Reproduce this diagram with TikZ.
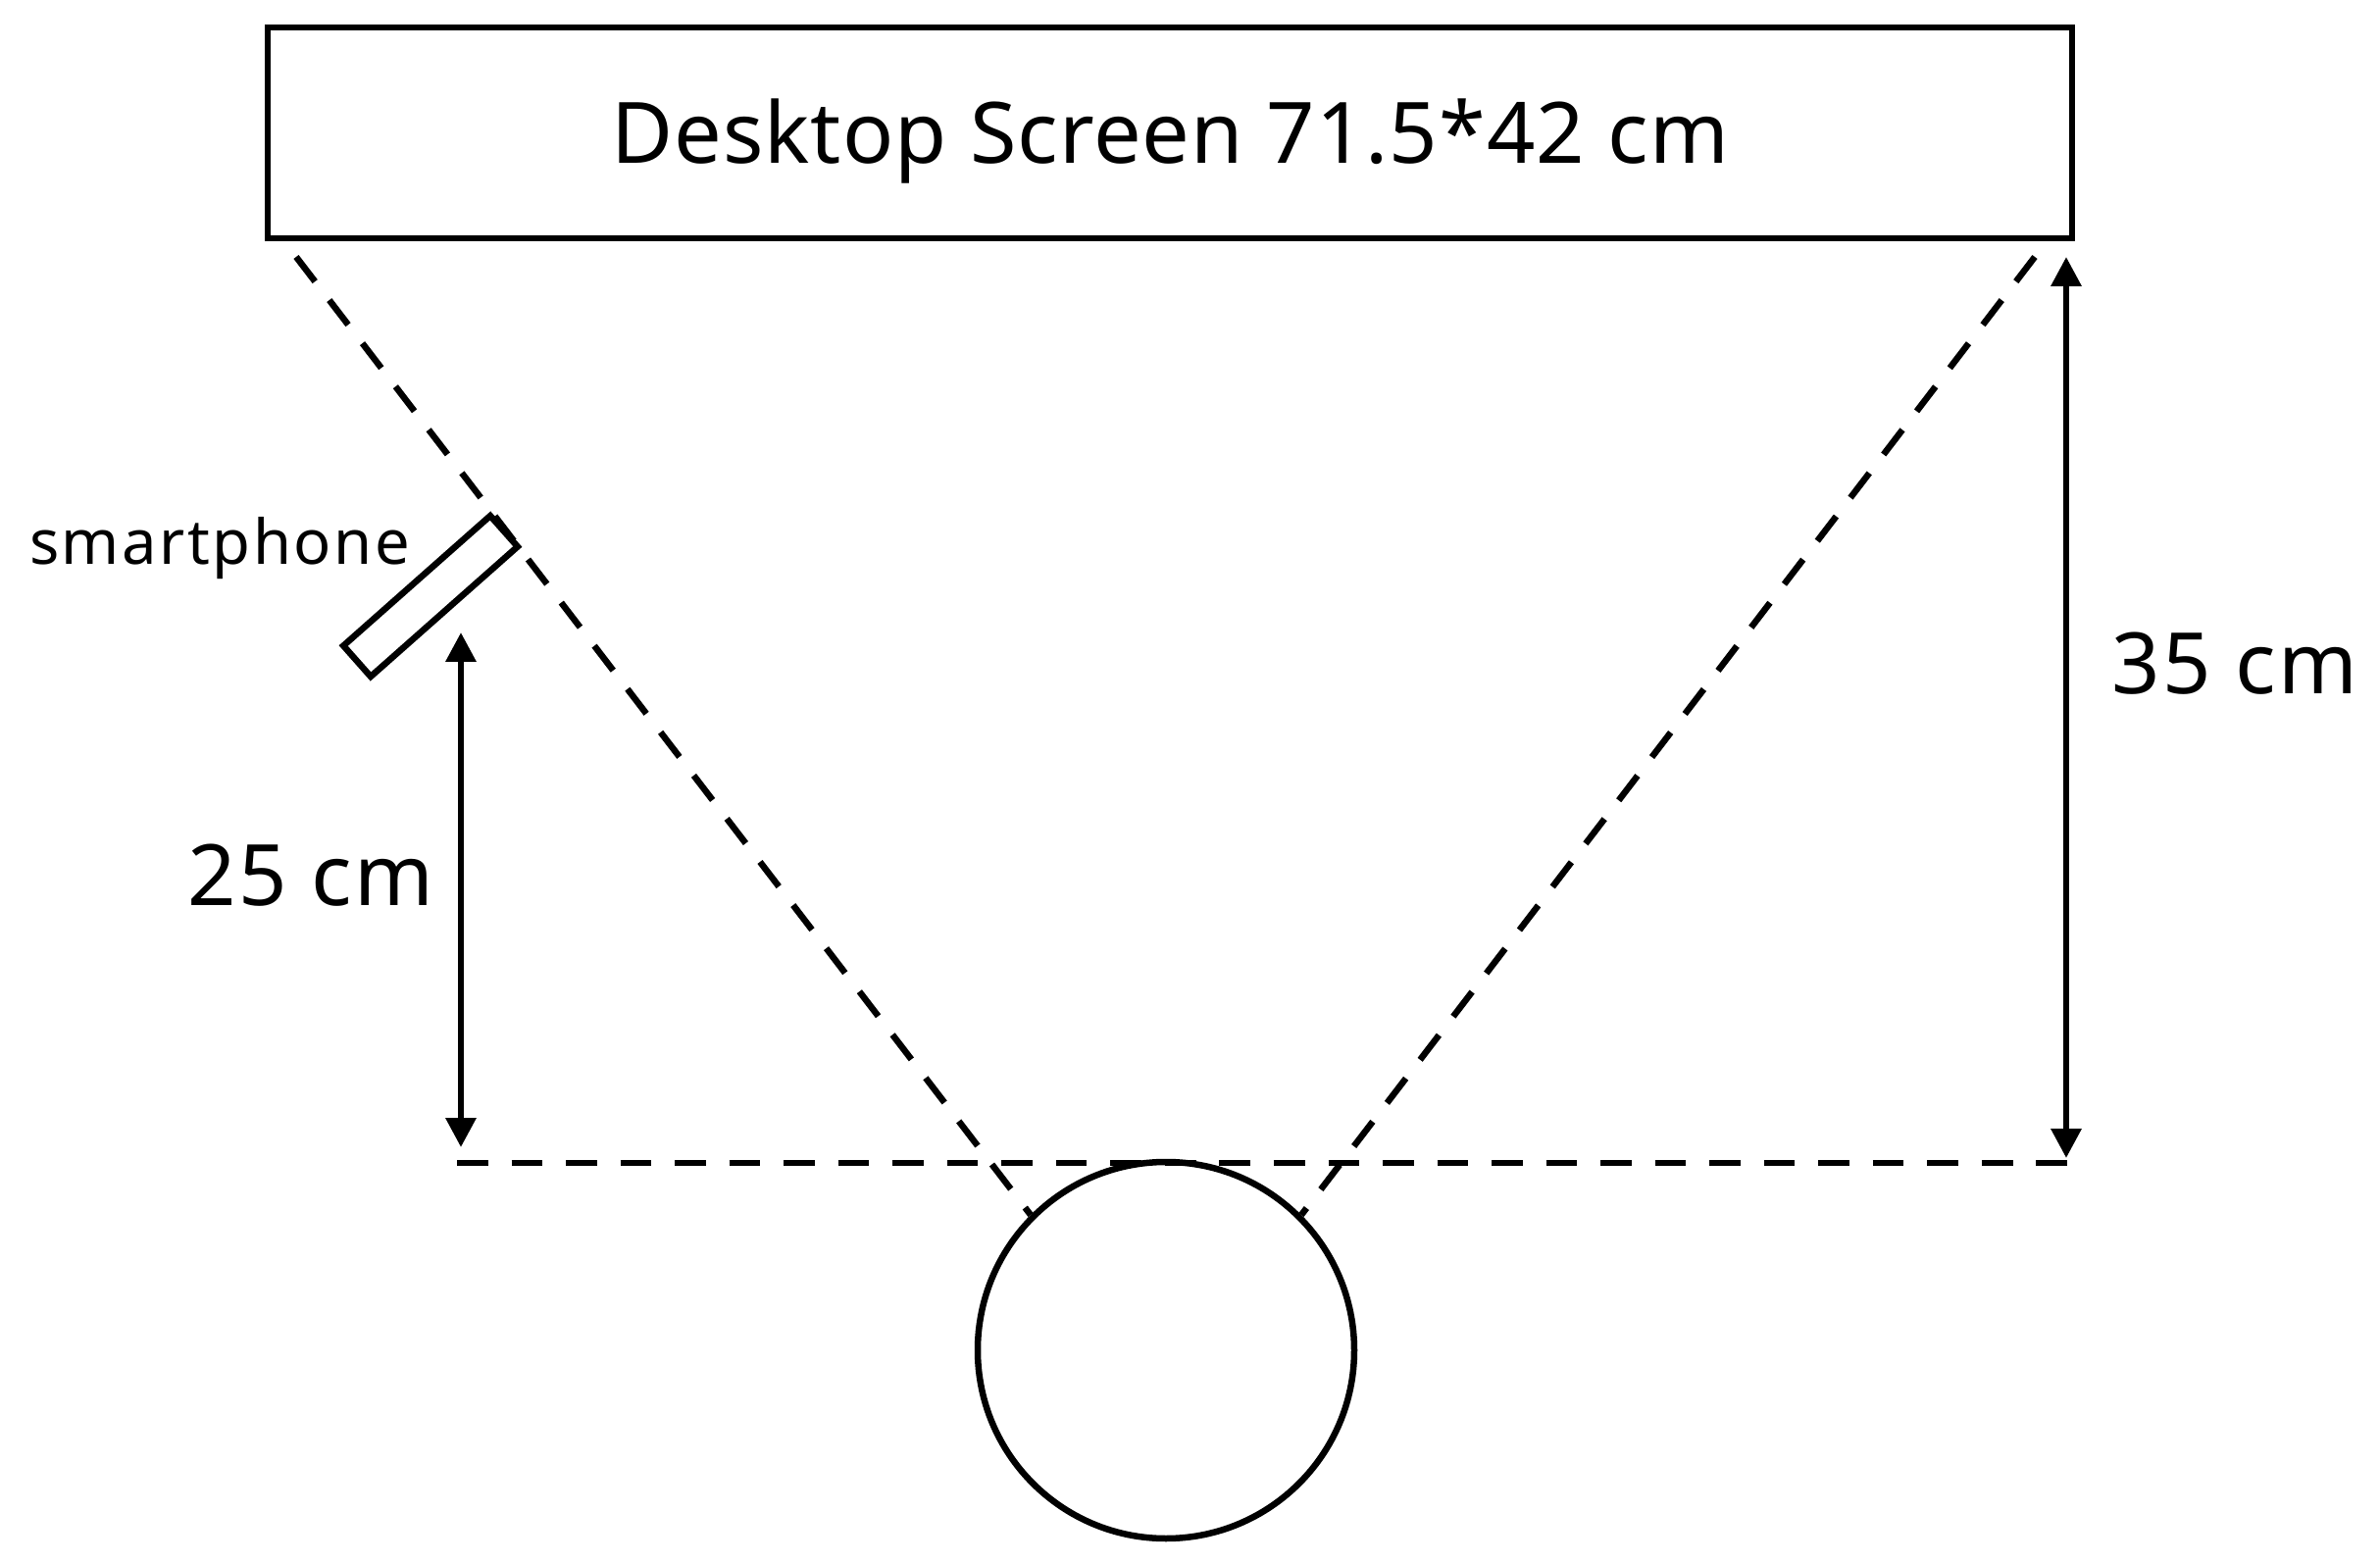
\documentclass[tikz,border=0pt]{standalone}
\usepackage{fontspec}
\setmainfont{Noto Sans}
\newfontfamily\titlefont[LetterSpace=1.2]{Noto Sans}
\newfontfamily\dimfont[LetterSpace=3]{Noto Sans}
\newfontfamily\phonefont[LetterSpace=4]{Noto Sans}
\usetikzlibrary{arrows.meta}
\begin{document}
\begin{tikzpicture}[
  line width=1.85pt,
  dashline/.style={line width=1.85pt, dash pattern=on 9pt off 6.8pt},
  dimarrow/.style={line width=1.85pt, {Triangle[width=0.3cm,length=0.3cm]}-{Triangle[width=0.3cm,length=0.3cm]}},
  lbl/.style={inner sep=0pt, anchor=base},
]
\useasboundingbox (0,0) rectangle (24.27,-15.94);
% screen
\node[draw, line width=1.85pt, minimum width=18.4cm, minimum height=2.15cm, inner sep=0pt] (screen) at (11.93,-1.355) {};
\node[lbl, font=\titlefont\fontsize{24.6pt}{28pt}\selectfont] (title) at (11.93,-1.67) {Desktop Screen 71.5*42 cm};
% head
\node[draw, circle, line width=1.85pt, minimum size=3.84cm, inner sep=0pt] (head) at (11.89,-13.77) {};
% phone
\node[draw, line width=1.85pt, rotate=41.5, minimum width=2.0cm, minimum height=0.42cm, inner sep=0pt] (phone) at (4.39,-6.08) {};
% sight lines
\coordinate (sl) at (3.02,-2.62);
\coordinate (sr) at (20.75,-2.62);
\draw[dashline] (sl) -- (head.135);
\draw[dashline] (sr) -- (head.45);
% eye level line
\coordinate (hl) at (4.66,-11.86);
\coordinate (hr) at (21.08,-11.86);
\draw[dashline] (hl) -- (hr);
% dimensions
\coordinate (a25b) at (4.70,-11.70);
\coordinate (a25t) at (4.70,-6.45);
\draw[dimarrow] (a25b) -- (a25t);
\coordinate (a35t) at (21.07,-2.62);
\coordinate (a35b) at (21.07,-11.81);
\draw[dimarrow] (a35t) -- (a35b);
% labels
\node[lbl, font=\dimfont\fontsize{24.6pt}{28pt}\selectfont] (l35) at (22.79,-7.07) {35 cm};
\node[lbl, font=\dimfont\fontsize{24.6pt}{28pt}\selectfont] (l25) at (3.17,-9.23) {25 cm};
\node[lbl, font=\phonefont\fontsize{18pt}{21pt}\selectfont] (lphone) at (2.24,-5.76) {smartphone};
\end{tikzpicture}
\end{document}
